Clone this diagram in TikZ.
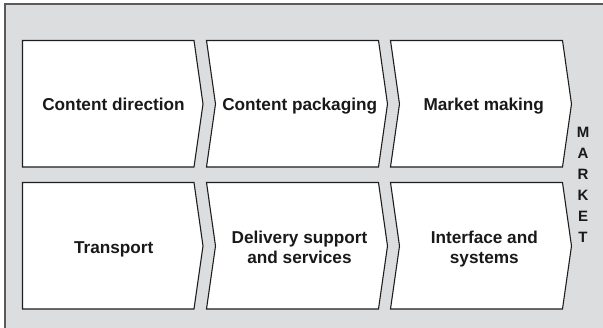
\documentclass[tikz,border=0pt]{standalone}
\usepackage{fontspec}
\setmainfont{Liberation Sans}
\definecolor{bgfill}{HTML}{DCDDDF}
\definecolor{framecol}{HTML}{5A5A5A}
\definecolor{boxline}{HTML}{1E1E1E}
\begin{document}
\begin{tikzpicture}[x=1pt,y=-1pt,
  chevbox/.style={draw=boxline, fill=white, line width=1.1pt, line join=miter},
  lbl/.style={font=\fontsize{17.2}{20}\selectfont\bfseries, align=center, text=black!90, inner sep=0pt, anchor=base},
  mkt/.style={font=\fontsize{15}{21}\selectfont\bfseries, align=center, text=black!90, inner sep=0pt, anchor=base}]
\useasboundingbox (0,0) rectangle (603,328);
% background frame
\fill[bgfill] (5,4) rectangle (603,328);
\draw[framecol, line width=1.3pt] (603,4) -- (5,4) -- (5,328);
% row 1
\draw[chevbox] (22.5,40.5) -- (194,40.5) -- (203,104) -- (194,167) -- (22.5,167) -- cycle;
\draw[chevbox] (206.5,40.5) -- (378.5,40.5) -- (387.5,104) -- (378.5,167) -- (206.5,167) -- (215.5,104) -- cycle;
\draw[chevbox] (390.5,40.5) -- (562.5,40.5) -- (571.5,104) -- (562.5,167) -- (390.5,167) -- (399.5,104) -- cycle;
% row 2
\draw[chevbox] (22.5,182.5) -- (194,182.5) -- (203,246) -- (194,309) -- (22.5,309) -- cycle;
\draw[chevbox] (206.5,182.5) -- (378.5,182.5) -- (387.5,246) -- (378.5,309) -- (206.5,309) -- (215.5,246) -- cycle;
\draw[chevbox] (390.5,182.5) -- (562.5,182.5) -- (571.5,246) -- (562.5,309) -- (390.5,309) -- (399.5,246) -- cycle;
% labels
\node[lbl] (cd) at (113.5,111) {Content direction};
\node[lbl] (cp) at (299.7,111) {Content packaging};
\node[lbl] (mm) at (483.8,111) {Market making};
\node[lbl] (tr) at (113.7,253.3) {Transport};
\node[lbl] (ds) at (299.5,264) {Delivery support\\and services};
\node[lbl] (is) at (484.3,263.3) {Interface and\\systems};
\node[mkt] (mk) at (583,242.3) {M\\A\\R\\K\\E\\T};
\end{tikzpicture}
\end{document}
